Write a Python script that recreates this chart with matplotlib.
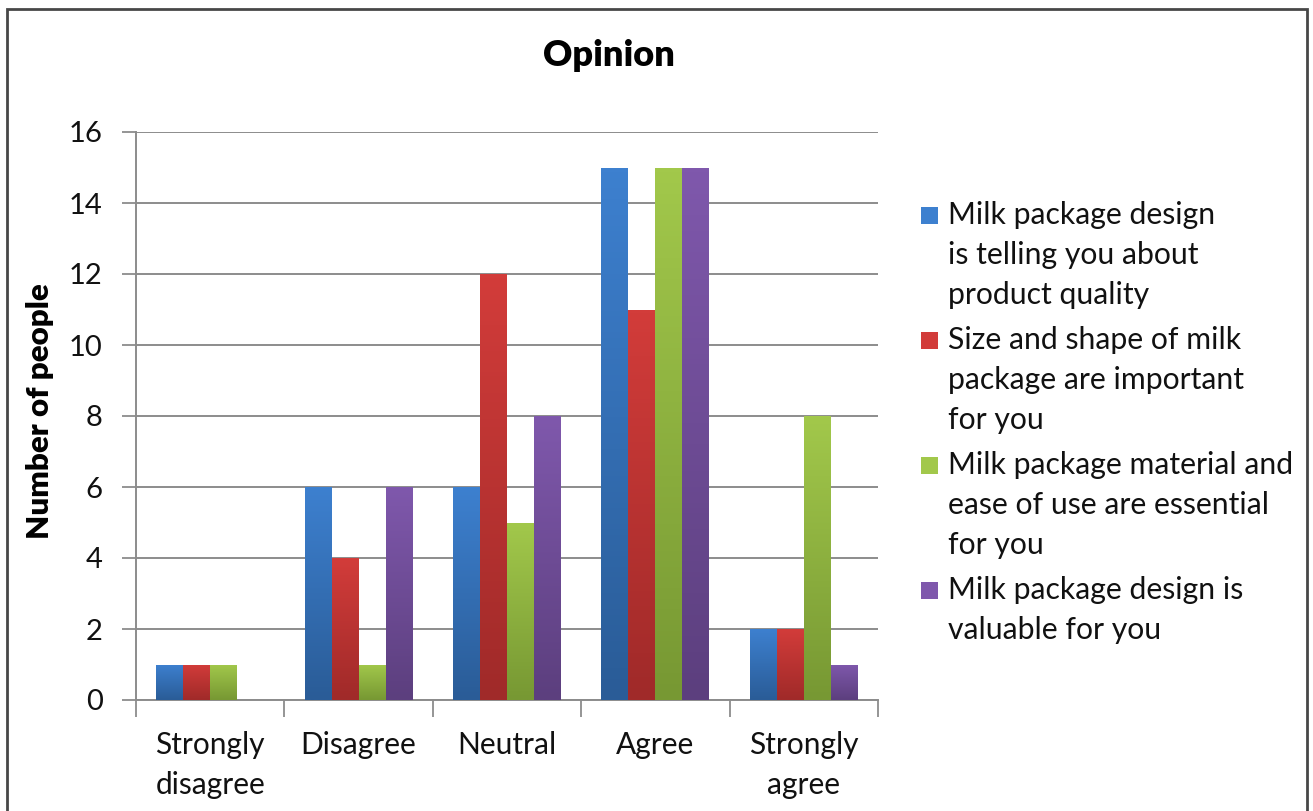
import matplotlib
matplotlib.use("Agg")
import matplotlib.pyplot as plt
import numpy as np
from matplotlib.colors import LinearSegmentedColormap
from matplotlib.patches import Rectangle

categories = ["Strongly\ndisagree", "Disagree", "Neutral", "Agree", "Strongly\nagree"]
series_names = [
    "Milk package design\nis telling you about\nproduct quality",
    "Size and shape of milk\npackage are important\nfor you",
    "Milk package material and\nease of use are essential\nfor you",
    "Milk package design is\nvaluable for you",
]
s1 = [1, 6, 6, 15, 2]
s2 = [1, 4, 12, 11, 2]
s3 = [1, 1, 5, 15, 8]
s4 = [0, 6, 8, 15, 1]
series = [s1, s2, s3, s4]
y_ticks = [0, 2, 4, 6, 8, 10, 12, 14, 16]

top_colors = ["#3D80CF", "#D23C3A", "#A2C84B", "#7F58AC"]
bot_colors = ["#2A5C97", "#A02A29", "#779833", "#5C3F7E"]

plt.rcParams['font.family'] = ['Lato', 'DejaVu Sans']
W, H = 1313, 811
fig = plt.figure(figsize=(W / 100, H / 100), dpi=100)
fig.patch.set_facecolor("white")

# outer frame
fig.patches.append(Rectangle((7 / W, -0.05), 1300 / W, (H - 9) / H + 0.05,
                             transform=fig.transFigure, fill=False,
                             edgecolor="#474747", linewidth=2.0))

ax = fig.add_axes([136 / W, (H - 700) / H, (878 - 136) / W, (700 - 132) / H])
n = len(series)
gap = 1.5
bw = 1.0 / (n + gap)
x = np.arange(len(categories))
for i, (vals, tc, bc) in enumerate(zip(series, top_colors, bot_colors)):
    offs = x - 0.5 + (gap / 2) * bw + i * bw + bw / 2
    bars = ax.bar(offs, vals, width=bw, color=tc, zorder=3, linewidth=0)
    cmap = LinearSegmentedColormap.from_list("g%d" % i, [bc, tc])
    for b in bars:
        h = b.get_height()
        if h <= 0:
            continue
        x0 = b.get_x()
        grad = np.linspace(1, 0, 100).reshape(-1, 1)
        im = ax.imshow(grad, extent=[x0, x0 + b.get_width(), 0, h], aspect='auto',
                       cmap=cmap, vmin=0, vmax=1, zorder=4, origin='upper')
        im.set_clip_path(b)

ax.set_xlim(-0.5, len(categories) - 0.5)
ax.set_ylim(0, 16)
ax.set_yticks(y_ticks)
ax.set_yticklabels([str(t) for t in y_ticks], fontsize=21, color="#111111")
ax.set_xticks(x)
ax.set_xticklabels(categories, fontsize=21.5, color="#111111", linespacing=1.55)
ax.tick_params(axis='x', length=0, pad=22)
ax.tick_params(axis='y', length=10, width=1.3, color="#8c8c8c", pad=14)
# x boundary ticks
ax.set_xticks(np.arange(-0.5, len(categories)), minor=True)
ax.tick_params(axis='x', which='minor', length=12, width=1.3, color="#8c8c8c")
ax.yaxis.grid(True, color="#8c8c8c", linewidth=1.4, zorder=0)
ax.set_axisbelow(True)
for s in ["top", "right"]:
    ax.spines[s].set_visible(False)
for s in ["left", "bottom"]:
    ax.spines[s].set_color("#8c8c8c")
    ax.spines[s].set_linewidth(1.4)
ax.set_facecolor("white")

fig.text(609 / W, 1 - 55 / H, "Opinion", ha="center", va="center",
         fontsize=26, fontweight="heavy", color="black")
fig.text(40 / W, 1 - 411 / H, "Number of people", ha="center", va="center",
         rotation=90, fontsize=22.5, fontweight="heavy", color="black")

# legend
entry_tops = [215, 340, 465, 590]
line_h = 40
for name, tc, bc, ty in zip(series_names, top_colors, bot_colors, entry_tops):
    fig.patches.append(Rectangle((921 / W, 1 - (ty + 9) / H), 17 / W, 17 / H,
                                 transform=fig.transFigure, facecolor=tc,
                                 edgecolor="none"))
    for k, line in enumerate(name.split("\n")):
        fig.text(948 / W, 1 - (ty + k * line_h) / H, line, ha="left", va="center",
                 fontsize=21.7, color="#111111")

fig.savefig("out.png", dpi=100, facecolor="white")
